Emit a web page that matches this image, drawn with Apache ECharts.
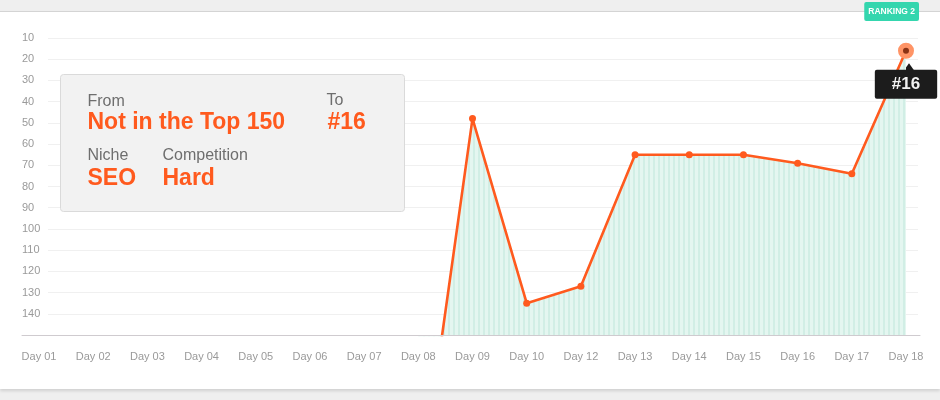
<!DOCTYPE html>
<html><head><meta charset="utf-8">
<script src="https://cdn.jsdelivr.net/npm/echarts@6/dist/echarts.min.js"></script>
<style>
html,body{margin:0;padding:0;background:#efefef;width:940px;height:400px;overflow:hidden}
#card{position:absolute;left:0;top:11px;width:940px;height:377px;background:#fff;border-top:1px solid #d4d4d4;box-shadow:0 2px 3px rgba(0,0,0,0.13)}
#chart{position:absolute;left:0;top:0;width:940px;height:400px}
</style></head><body>
<div id="card"></div><div id="chart"></div>
<script>
const categories = ['Day 01','Day 02','Day 03','Day 04','Day 05','Day 06','Day 07','Day 08','Day 09','Day 10','Day 12','Day 13','Day 14','Day 15','Day 16','Day 17','Day 18'];
// Day 01-07: no ranking; Day 08: outside the top 150 (off chart)
const ranking = ['-','-','-','-','-','-','-',230,48,135,127,65,65,65,69,74,16];
const seriesName = 'RANKING 2';
const yMin = 10, yMax = 150, yStep = 10;
const infoLabels = ['From','To','Niche','Competition'];
const infoValues = ['Not in the Top 150','#16','SEO','Hard'];

const ORANGE = '#ff5a1e';
const FONT = '"Liberation Sans", Arial, Helvetica, sans-serif';

function stripePattern(){
  const c = document.createElement('canvas');
  c.width = 5; c.height = 4;
  const g = c.getContext('2d');
  g.fillStyle = '#e4f6f0'; g.fillRect(0,0,5,4);
  g.fillStyle = '#d1eee5'; g.fillRect(3,0,2,4);
  return c;
}

const last = ranking.length - 1;
const seriesData = ranking.map((v,i)=>{
  if (v === '-') return '-';
  if (v > yMax) return {value: v, symbol: 'none'};
  if (i === last) return {
    value: v, symbolSize: 11,
    itemStyle: {color:'#8a3214', borderColor:'#ff9466', borderWidth:5},
    label: {show:true, position:'bottom', distance:11, formatter: p => '#' + p.value,
      color:'#f2f2f2', fontSize:17, fontWeight:'bold', fontFamily:FONT, lineHeight:19,
      backgroundColor:'#1c1c1c', padding:[5,17,5,17], borderRadius:2}
  };
  return v;
});

const chart = echarts.init(document.getElementById('chart'), null, {renderer:'canvas'});
const gTop = 38, gBottom = 65;
const Z = 100;
function txt(x, y, text, font, fill){
  return {type:'text', x:x, y:y, z:Z+1, style:{text:text, fill:fill, font:font, verticalAlign:'middle'}};
}
const option = {
  animation:false,
  backgroundColor:'transparent',
  legend:{data:[seriesName], right:21, top:2, padding:0, icon:'none', itemWidth:0, itemHeight:0, selectedMode:false,
    textStyle:{color:'#fff', fontSize:8.5, fontWeight:'bold', fontFamily:FONT, lineHeight:10,
      backgroundColor:'#34d6ae', padding:[5,4,4,4], borderRadius:2}},
  grid:[
    {left:39, right:34, top:gTop, bottom:gBottom},
    {left:48, right:22, top:gTop, bottom:gBottom},
    {left:22, right:20, top:gTop, bottom:gBottom}
  ],
  xAxis:[
    {type:'category', gridIndex:0, data:categories, boundaryGap:false,
      axisLine:{show:false}, axisTick:{show:false}, splitLine:{show:false},
      axisLabel:{color:'#9a9a9a', fontSize:11, fontFamily:FONT, margin:16, interval:0}},
    {type:'value', gridIndex:1, show:false, min:0, max:1},
    {type:'value', gridIndex:2, min:0, max:1, z:20, axisLine:{show:true, lineStyle:{color:'#cfcbcf', width:1}},
      axisTick:{show:false}, axisLabel:{show:false}, splitLine:{show:false}}
  ],
  yAxis:[
    {type:'value', gridIndex:0, inverse:true, min:yMin, max:yMax, interval:yStep, show:false, splitLine:{show:false}},
    {type:'value', gridIndex:1, inverse:true, min:yMin, max:yMax, interval:yStep,
      axisLine:{show:false}, axisTick:{show:false},
      splitLine:{show:true, lineStyle:{color:'#f0f0f0', width:1}},
      axisLabel:{color:'#9a9a9a', fontSize:11, fontFamily:FONT, align:'left', margin:26,
        formatter: v => v >= yMax ? '' : String(v)}},
    {type:'value', gridIndex:2, show:false, min:0, max:1}
  ],
  series:[{
    name:seriesName, type:'line', xAxisIndex:0, yAxisIndex:0, data:seriesData,
    clip:true, z:5,
    lineStyle:{color:ORANGE, width:2.6},
    itemStyle:{color:ORANGE},
    symbol:'circle', symbolSize:7, showAllSymbol:true,
    areaStyle:{origin:'end', color:{image:stripePattern(), repeat:'repeat'}, opacity:1},
    markPoint:{
      silent:true, label:{show:false},
      data:[{coord:[categories[last], ranking[last]], symbol:'triangle', symbolSize:[10,7], symbolOffset:[3,16],
        itemStyle:{color:'#1c1c1c'}}]
    }
  }],
  graphic:[{
    type:'group', left:60, top:74, z:Z,
    children:[
      {type:'rect', z:Z, shape:{x:0,y:0,width:344,height:137,r:3},
        style:{fill:'rgba(241,241,241,0.96)', stroke:'#dadada', lineWidth:1}},
      txt(27, 27, infoLabels[0], '16px '+FONT, '#6e6e6e'),
      txt(27, 48, infoValues[0], 'bold 23px '+FONT, ORANGE),
      txt(266, 26, infoLabels[1], '16px '+FONT, '#6e6e6e'),
      txt(267, 48, infoValues[1], 'bold 23px '+FONT, ORANGE),
      txt(27, 81, infoLabels[2], '16px '+FONT, '#6e6e6e'),
      txt(102, 81, infoLabels[3], '16px '+FONT, '#6e6e6e'),
      txt(27, 104, infoValues[2], 'bold 23px '+FONT, ORANGE),
      txt(102, 104, infoValues[3], 'bold 23px '+FONT, ORANGE)
    ]
  }]
};
chart.setOption(option);
</script>
</body></html>
